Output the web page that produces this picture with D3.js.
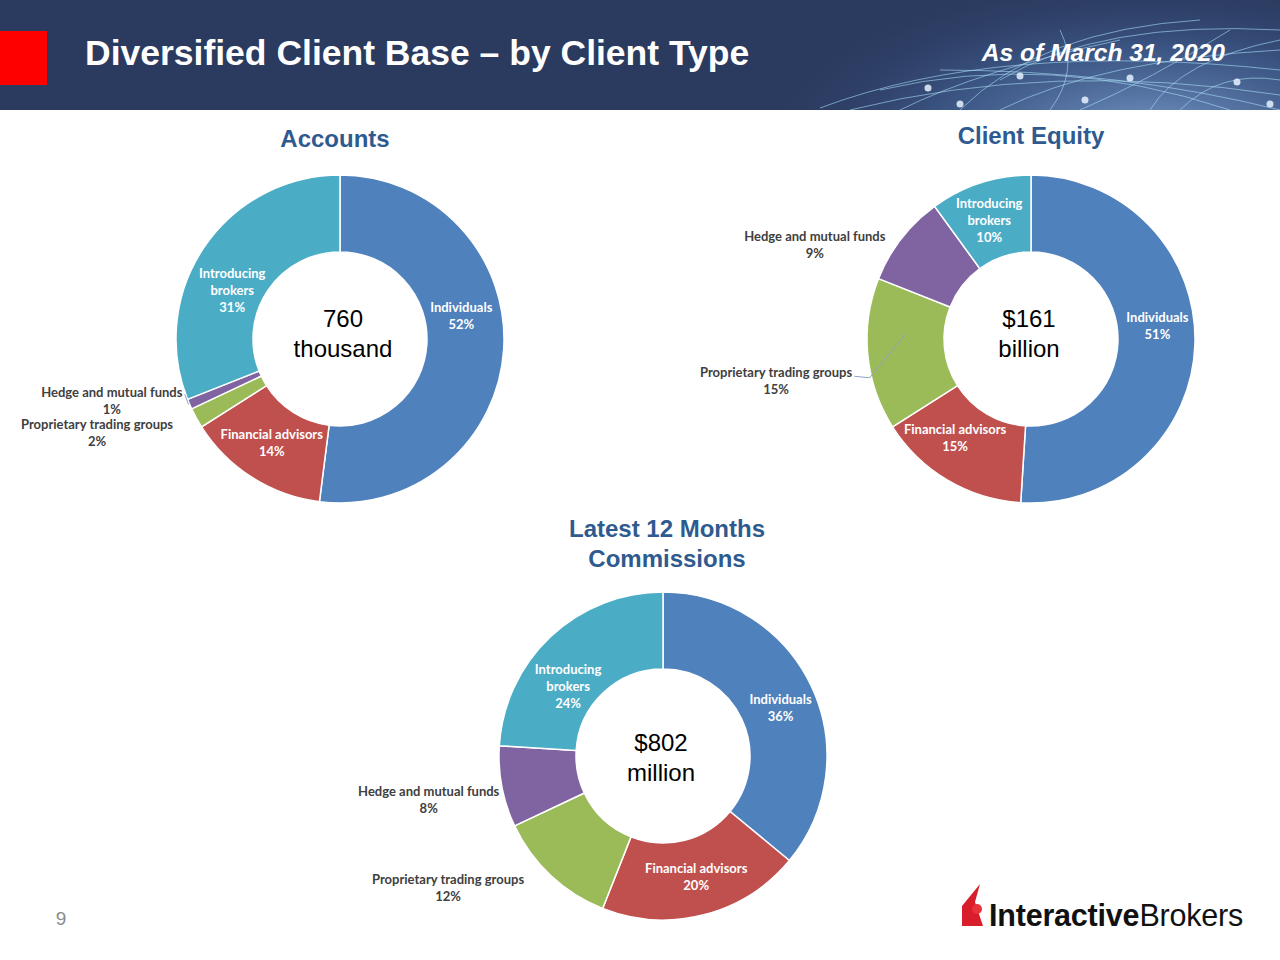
<!DOCTYPE html>
<html>
<head>
<meta charset="utf-8">
<script src="https://cdn.jsdelivr.net/npm/d3@7"></script>
<style>
  body { margin: 0; background: #fff; }
  svg { display: block; }
</style>
</head>
<body>
<svg id="slide" width="1280" height="960"></svg>
<script>
// DATA

const categories = [
  "Individuals",
  "Financial advisors",
  "Proprietary trading groups",
  "Hedge and mutual funds",
  "Introducing brokers"
];
const colors = ["#4F81BD", "#C0504D", "#9BBB59", "#8064A2", "#4BACC6"];

const accountsValues = [52, 14, 2, 1, 31];
const equityValues = [51, 15, 15, 9, 10];
const commissionsValues = [36, 20, 12, 8, 24];

const accountsTotal = ["760", "thousand"];
const equityTotal = ["$161", "billion"];
const commissionsTotal = ["$802", "million"];

// label lines for slices drawn inside vs. outside
const insideLines = {
  "Individuals": ["Individuals"],
  "Financial advisors": ["Financial  advisors"],
  "Introducing brokers": ["Introducing", "brokers"]
};

// LAYOUT

const svg = d3.select("#slide");
const ro = 164, ri = 87;
const lineH = 17;

// header band
let defs = svg.append("defs");
let glow = defs.append("radialGradient").attr("id", "glow")
  .attr("cx", 0.5).attr("cy", 0.5).attr("r", 0.5);
glow.append("stop").attr("offset", "0%").attr("stop-color", "#7fa3d2").attr("stop-opacity", 0.95);
glow.append("stop").attr("offset", "55%").attr("stop-color", "#45659a").attr("stop-opacity", 0.6);
glow.append("stop").attr("offset", "100%").attr("stop-color", "#2b3b60").attr("stop-opacity", 0);

let header = svg.append("g");
header.append("rect").attr("width", 1280).attr("height", 110).attr("fill", "#2b3a5f");
header.append("clipPath").attr("id", "hclip").append("rect").attr("width", 1280).attr("height", 110);
let globe = header.append("g").attr("clip-path", "url(#hclip)");
globe.append("ellipse").attr("cx", 1150).attr("cy", 140).attr("rx", 400).attr("ry", 170).attr("fill", "url(#glow)");
// faint network lines of the globe picture
let arcs = [
  "M820,108 Q1000,40 1280,70", "M850,110 Q1050,60 1280,95", "M900,110 Q980,70 1120,40",
  "M960,110 Q1040,30 1200,20", "M1000,110 Q1100,60 1280,50", "M1050,110 Q1080,70 1060,30",
  "M1150,110 Q1180,60 1280,40", "M880,90 Q1050,50 1230,110", "M940,70 Q1120,70 1280,110",
  "M1080,110 Q1150,80 1230,30", "M1180,110 Q1220,70 1280,80", "M1000,80 Q1100,20 1280,30"
];
globe.selectAll("path.net").data(arcs).enter().append("path")
  .attr("d", d => d).attr("fill", "none")
  .attr("stroke", "#a9def5").attr("stroke-opacity", 0.6).attr("stroke-width", 1);
let dots = [[928, 88], [1020, 76], [1130, 78], [1085, 100], [1237, 82], [960, 104], [1270, 104]];
globe.selectAll("circle.dot").data(dots).enter().append("circle")
  .attr("cx", d => d[0]).attr("cy", d => d[1]).attr("r", 3.5)
  .attr("fill", "#e6f2ff").attr("fill-opacity", 0.85);

header.append("rect").attr("x", 0).attr("y", 31).attr("width", 47).attr("height", 54).attr("fill", "#ff0000");
header.append("text").attr("x", 85).attr("y", 65)
  .attr("font-family", "Liberation Sans, Arial, sans-serif").attr("font-weight", "bold")
  .attr("font-size", 35.5).attr("fill", "#ffffff")
  .text("Diversified Client Base \u2013 by Client Type");
header.append("text").attr("x", 1225).attr("y", 61).attr("text-anchor", "end")
  .attr("font-family", "Liberation Sans, Arial, sans-serif").attr("font-weight", "bold")
  .attr("font-style", "italic").attr("font-size", 24.6).attr("fill", "#ffffff")
  .text("As of March 31, 2020");

// DONUTS

let pie = d3.pie().sort(null).value(d => d.value);
let arcGen = d3.arc().innerRadius(ri).outerRadius(ro);
let midR = (ri + ro) / 2;

function polar(cx, cy, angle, r) {
  return [cx + r * Math.sin(angle), cy - r * Math.cos(angle)];
}

function drawDonut(opt) {
  let data = categories.map((c, i) => ({ name: c, value: opt.values[i], color: colors[i] }));
  let slices = pie(data);
  let g = svg.append("g").attr("transform", "translate(" + opt.cx + "," + opt.cy + ")");

  g.selectAll("path.slice").data(slices).enter().append("path")
    .attr("class", "slice")
    .attr("d", arcGen)
    .attr("fill", d => d.data.color)
    .attr("stroke", "#ffffff").attr("stroke-width", 1.5);

  // title
  let t = svg.append("text").attr("text-anchor", "middle")
    .attr("font-family", "Liberation Sans, Arial, sans-serif").attr("font-weight", "bold")
    .attr("font-size", 24).attr("fill", "#2f5a90");
  opt.title.forEach((line, k) => {
    t.append("tspan").attr("x", opt.titleX).attr("y", opt.titleY + k * 30).text(line);
  });

  // center total
  let c = svg.append("text").attr("text-anchor", "middle")
    .attr("font-family", "Liberation Sans, Arial, sans-serif")
    .attr("font-size", 24).attr("fill", "#000000");
  opt.total.forEach((line, k) => {
    c.append("tspan").attr("x", opt.cx + opt.totalDx).attr("y", opt.cy - 12 + opt.totalDy + k * 30).text(line);
  });

  // slice labels
  slices.forEach((s, i) => {
    let off = opt.labelOff[i];
    let mid = (s.startAngle + s.endAngle) / 2;
    let p = polar(opt.cx, opt.cy, mid, midR);
    let inside = off[2];
    let pct = d3.format(".0f")(s.data.value) + "%";
    let lines = inside ? insideLines[s.data.name].concat([pct]) : [s.data.name, pct];
    let lx = p[0] + off[0], ly = p[1] + off[1];
    let y0 = ly - (lines.length - 1) * lineH / 2;
    let txt = svg.append("text").attr("text-anchor", "middle")
      .attr("font-family", "Lato, Carlito, sans-serif").attr("font-weight", "bold")
      .attr("font-size", 13)
      .attr("fill", inside ? "#ffffff" : "#404040");
    lines.forEach((line, k) => {
      txt.append("tspan").attr("x", lx).attr("y", y0 + k * lineH + 4.5).text(line);
    });

    if (opt.leaders && opt.leaders[i]) {
      let L = opt.leaders[i];
      let w = txt.node().getBBox();
      let start = [w.x + w.width + 2, y0 + L.dy];
      let pts = [start];
      L.pts.forEach(q => {
        let a = s.startAngle + q[0] * (s.endAngle - s.startAngle);
        pts.push(polar(opt.cx, opt.cy, a, q[1]));
      });
      svg.append("path").attr("d", d3.line()(pts))
        .attr("fill", "none").attr("stroke", "#8da3c4").attr("stroke-width", 1);
    }
  });
}

drawDonut({
  values: accountsValues, total: accountsTotal,
  cx: 340, cy: 339, totalDx: 3, totalDy: 0,
  title: ["Accounts"], titleX: 335, titleY: 147,
  labelOff: [[-4, -31, true], [-1, -2, true], [-133, 34, false], [-113, 12, false], [-4, 22, true]],
  leaders: { 3: { dy: 2, pts: [[0.5, ro + 1]] } }
});

drawDonut({
  values: equityValues, total: equityTotal,
  cx: 1031, cy: 339, totalDx: -2, totalDy: 0,
  title: ["Client Equity"], titleX: 1031, titleY: 144,
  labelOff: [[1, -17, true], [-12, -9, true], [-130, 30, false], [-117, -17, false], [-3, 1, true]],
  leaders: { 2: { dy: 4, pts: [[0.35, ro + 2], [0.64, midR]] } }
});

drawDonut({
  values: commissionsValues, total: commissionsTotal,
  cx: 663, cy: 756, totalDx: -2, totalDy: 7,
  title: ["Latest 12 Months", "Commissions"], titleX: 667, titleY: 537,
  labelOff: [[4, 5, true], [2, -1, true], [-129, 41, false], [-111, 20, false], [-9, 22, true]]
});

// FOOTER

svg.append("text").attr("x", 61).attr("y", 925).attr("text-anchor", "middle")
  .attr("font-family", "Liberation Sans, Arial, sans-serif").attr("font-size", 19)
  .attr("fill", "#8c8c8c").text("9");

let logo = svg.append("g");
logo.append("path")
  .attr("d", "M962,926 L962,906 L980,884 L975,902 L983,926 Z")
  .attr("fill", "#d81e2a");
logo.append("circle").attr("cx", 977).attr("cy", 909).attr("r", 5).attr("fill", "#e8323c");
let lt = logo.append("text").attr("x", 989).attr("y", 926)
  .attr("font-family", "Liberation Sans, Arial, sans-serif").attr("font-size", 30.5)
  .attr("fill", "#111111").attr("letter-spacing", -0.2);
lt.append("tspan").attr("font-weight", "bold").text("Interactive");
lt.append("tspan").text("Brokers");
</script>
</body>
</html>
